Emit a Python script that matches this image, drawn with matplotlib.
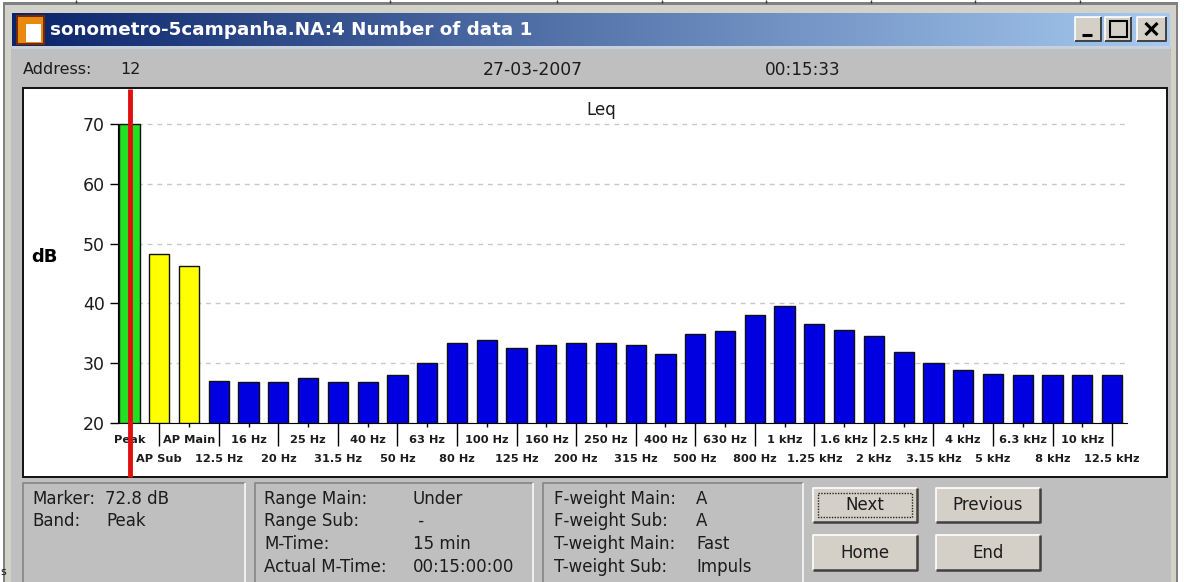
#!/usr/bin/env python3
import numpy as np
import matplotlib
matplotlib.use('Agg')
import matplotlib.pyplot as plt
from matplotlib.patches import Rectangle

W, H = 1184, 582

bands = ['Peak', 'AP Sub', 'AP Main', '12.5 Hz', '16 Hz', '20 Hz', '25 Hz', '31.5 Hz', '40 Hz',
         '50 Hz', '63 Hz', '80 Hz', '100 Hz', '125 Hz', '160 Hz', '200 Hz', '250 Hz', '315 Hz',
         '400 Hz', '500 Hz', '630 Hz', '800 Hz', '1 kHz', '1.25 kHz', '1.6 kHz', '2 kHz',
         '2.5 kHz', '3.15 kHz', '4 kHz', '5 kHz', '6.3 kHz', '8 kHz', '10 kHz', '12.5 kHz']
levels = [70, 48.2, 46.2, 27.1, 26.8, 26.8, 27.6, 26.8, 26.8, 28, 30, 33.3, 33.9, 32.6, 33,
          33.3, 33.3, 33, 31.5, 34.8, 35.4, 38, 39.5, 36.6, 35.6, 34.5, 31.8, 30, 28.8, 28.2,
          28, 28, 28, 28]
colors = ['#22e022', '#ffff00', '#ffff00'] + ['#0000e0'] * 31
yticks = [20, 30, 40, 50, 60, 70]
marker_band = 0

GREY = '#bfbfbf'
FONT = 'DejaVu Sans'

fig = plt.figure(figsize=(W / 100, H / 100), dpi=100, facecolor='white')

# window chrome, in pixels
bg = fig.add_axes([0, 0, 1, 1])
bg.set_xlim(0, W)
bg.set_ylim(H, 0)
bg.axis('off')


def rect(x0, y0, x1, y1, c, z=1):
    bg.add_patch(Rectangle((x0, y0), x1 - x0, y1 - y0, fc=c, ec='none', zorder=z))


def line(xs, ys, c, lw=1.0, z=3, ls='-'):
    bg.plot(xs, ys, color=c, lw=lw, zorder=z, ls=ls, solid_capstyle='butt')


def etched(x0, y0, x1, y1):
    line([x0, x0, x1], [H, y0, y0], '#858585', 1.2)
    line([x1, x1], [y0, H], '#f0f0f0', 1.4)


def txt(x, y, s, size=12, c='#1c1c1c', ha='left', **kw):
    bg.text(x, y, s, fontsize=size, color=c, ha=ha, va='center', family=FONT, zorder=6, **kw)


def button(x0, y0, x1, y1, label, focus=False):
    rect(x0, y0, x1, y1, '#d4d0c8', 3)
    line([x0, x0, x1], [y1, y0, y0], '#ffffff', 1.2, 4)
    line([x0, x1, x1], [y1, y1, y0], '#404040', 1.8, 4)
    if focus:
        bg.add_patch(Rectangle((x0 + 5, y0 + 5), x1 - x0 - 10, y1 - y0 - 10, fc='none',
                               ec='#222222', lw=1.0, ls=(0, (1, 1)), zorder=5))
    txt((x0 + x1) / 2, (y0 + y1) / 2, label, ha='center')


# top strip of whatever sits behind the window
for x in [76, 390, 557, 662, 766, 871, 975, 1080]:
    line([x, x], [0, 3], '#333333', 1.0)
rect(3, 2, 1178, H, '#808080', 1)
rect(5, 5, 1176, H, '#d2d2ca', 1)
rect(11, 47, 1171, H, GREY, 1)
rect(12, 46, 1170, 49, '#c8d0dc', 2)

# title bar
grad = np.linspace(0, 1, 512).reshape(1, -1, 1)
grad = (1 - grad) * np.array([10, 36, 106]) / 255 + grad * np.array([166, 202, 240]) / 255
bg.imshow(grad, extent=[12, 1170, 46, 13], aspect='auto', zorder=2, interpolation='bilinear')
bg.set_xlim(0, W)
bg.set_ylim(H, 0)
rect(16, 15, 45, 45, '#7a2a00', 3)
rect(18, 17, 43, 43, '#e88a10', 3)
rect(26, 24, 41, 42, '#ffffff', 4)
bg.text(50, 30, 'sonometro-5campanha.NA:4 Number of data 1', color='white', fontsize=13.2,
        fontweight='bold', va='center', family=FONT, zorder=5)
for x0, x1, kind in [(1075, 1101, '_'), (1105, 1131, 'o'), (1137, 1166, 'x')]:
    rect(x0, 17, x1, 41, '#d4d0c8', 3)
    line([x0, x0, x1], [41, 17, 17], '#ffffff', 1.2, 4)
    line([x0, x1, x1], [41, 41, 17], '#404040', 1.4, 4)
    cx = (x0 + x1) / 2
    if kind == '_':
        line([cx - 6, cx + 4], [35, 35], 'black', 2.2, 5)
    elif kind == 'o':
        bg.add_patch(Rectangle((cx - 8, 21), 17, 16, fc='none', ec='black', lw=1.5, zorder=5))
    else:
        line([cx - 6, cx + 6], [23, 35], 'black', 2.2, 5)
        line([cx - 6, cx + 6], [35, 23], 'black', 2.2, 5)

# header line
txt(23, 70, 'Address:', 11.5)
txt(120, 70, '12', 11.5)
txt(483, 70, '27-03-2007', 12.4)
txt(765, 70, '00:15:33', 12.2)

# white chart panel
bg.add_patch(Rectangle((23, 88), 1144, 389, fc='white', ec='#111111', lw=1.4, zorder=2))

# bottom panels
etched(23, 483, 245, H)
etched(255, 483, 533, H)
etched(543, 483, 803, H)

txt(32, 499, 'Marker:')
txt(105, 499, '72.8 dB')
txt(32, 521, 'Band:')
txt(106, 521, 'Peak')

for y, a, b in [(499, 'Range Main:', 'Under'), (521, 'Range Sub:', ' -'),
                (544, 'M-Time:', '15 min'), (567, 'Actual M-Time:', '00:15:00:00')]:
    txt(264, y, a)
    txt(413, y, b)

for y, a, b in [(499, 'F-weight Main:', 'A'), (521, 'F-weight Sub:', 'A'),
                (544, 'T-weight Main:', 'Fast'), (567, 'T-weight Sub:', 'Impuls')]:
    txt(554, y, a)
    txt(696, y, b)

button(813, 488, 917, 522, 'Next', focus=True)
button(936, 488, 1040, 522, 'Previous')
button(813, 535, 917, 570, 'Home')
button(936, 535, 1040, 570, 'End')

txt(0, 572, 's', 8)

# the bar chart itself
x0, x1 = 118, 1127
y_top, y_bot = 89, 423
ax = fig.add_axes([x0 / W, 1 - y_bot / H, (x1 - x0) / W, (y_bot - y_top) / H])
ax.patch.set_alpha(0)
pos = np.arange(len(bands))
ax.set_xlim(-0.386, 33.5)
ax.set_ylim(20, 20 + (y_bot - y_top) / 5.98)
ax.bar(pos, np.array(levels) - 20, bottom=20, width=0.68, color=colors, edgecolor='#101010',
       linewidth=1.0, zorder=3)

for s in ['top', 'right']:
    ax.spines[s].set_visible(False)
ax.spines['left'].set_bounds(20, 70)
ax.set_yticks(yticks)
ax.tick_params(axis='y', length=5.5, width=1.0, pad=4, labelsize=12.5)
for t in ax.get_yticklabels():
    t.set_color('#1c1c1c')
    t.set_family(FONT)
ax.yaxis.grid(True, color='#c8c8c8', ls=(0, (3.5, 3.5)), lw=1.0, zorder=1)
ax.set_axisbelow(True)

# alternate bands on two label rows, long ticks between them
ax.set_xticks(pos[1::2])
ax.set_xticklabels(bands[1::2])
ax.set_xticks(pos[0::2], minor=True)
ax.set_xticklabels(bands[0::2], minor=True)
ax.tick_params(axis='x', which='major', length=16.5, width=1.0, pad=5.5, labelsize=8.2)
ax.tick_params(axis='x', which='minor', length=3, width=1.0, pad=5.5, labelsize=8.2)
for t in ax.get_xticklabels(which='both'):
    t.set_fontweight('bold')
    t.set_color('#1c1c1c')
    t.set_family(FONT)

txt(31, 257, 'dB', 13, fontweight='bold', c='black')
txt(601, 110, 'Leq', 12, ha='center')

# marker line over the whole panel
ax.vlines(pos[marker_band] + 0.03, 20 - 54 / 5.98, 20 + 334 / 5.98, color='#e01010', lw=3.5,
          zorder=6, clip_on=False)

fig.savefig('out.png', dpi=100)
